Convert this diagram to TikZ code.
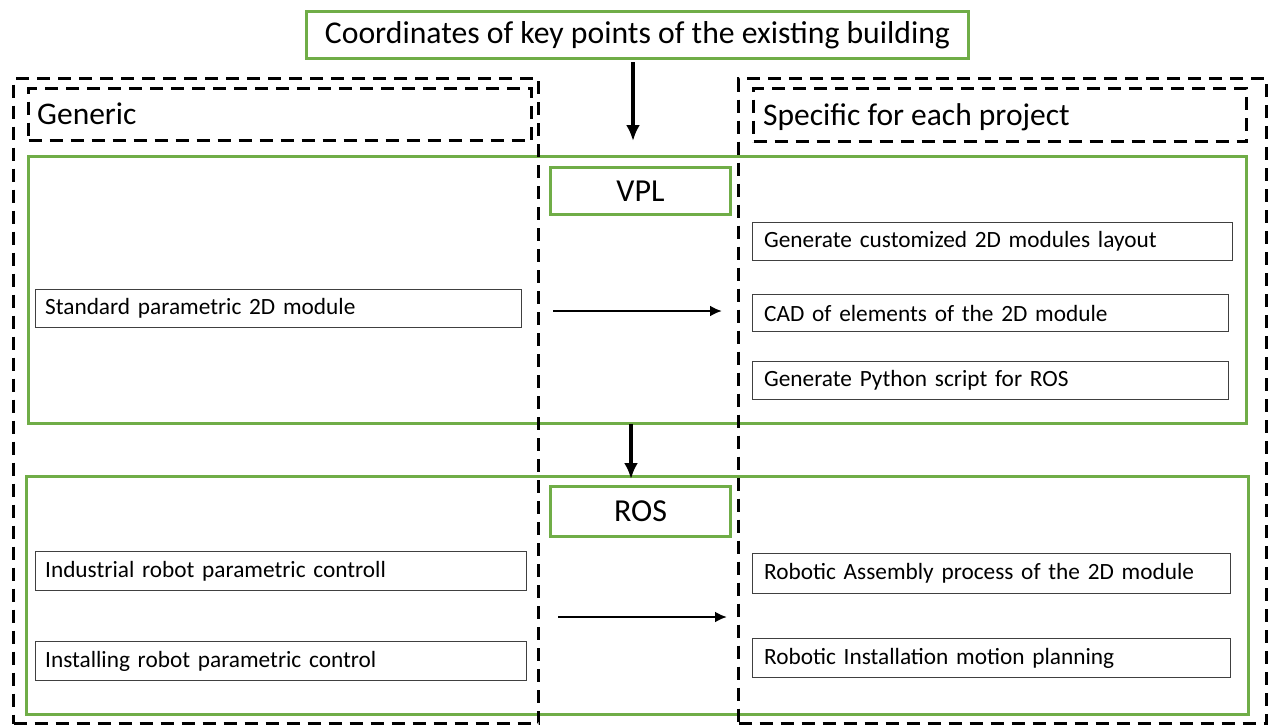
\documentclass[tikz,border=0pt]{standalone}
\usepackage{fontspec}
\setmainfont{Carlito}
\usetikzlibrary{arrows.meta}
\definecolor{ogreen}{HTML}{70AD47}
\definecolor{bordergray}{HTML}{404040}
\tikzset{
  x=1pt,y=-1pt,
  greenbox/.style={draw=ogreen,line width=3pt,fill=none},
  dashbox/.style={draw=black,line width=3pt,dash pattern=on 13pt off 8pt},
  sbox/.style={draw=bordergray,line width=1.3pt,rectangle,anchor=north west,inner sep=0pt,align=left,font=\fontsize{23.3}{26}\selectfont},
  titlebox/.style={draw=ogreen,line width=3pt,rectangle,anchor=north west,inner sep=0pt,align=center,font=\fontsize{32}{36}\selectfont},
  lbl/.style={anchor=west,inner sep=0pt,font=\fontsize{31.5}{36}\selectfont},
  harrow/.style={-{Latex[length=12pt,width=11pt]},line width=2.5pt},
  varrow/.style={-{Latex[length=16pt,width=14pt]},line width=4pt},
}
\newcommand{\lpad}[1]{\hspace*{7pt}\raisebox{-2pt}{#1}}
\newcommand{\rpad}[1]{\hspace*{9pt}\raisebox{-2pt}{#1}}
\begin{document}
\begin{tikzpicture}
\useasboundingbox (0,0) rectangle (1270,726);
% green big panels
\node[greenbox,rectangle,anchor=north west,minimum width=1218pt,minimum height=267pt,inner sep=0pt] (vplpanel) at (27,155) {};
\node[greenbox,rectangle,anchor=north west,minimum width=1222pt,minimum height=238pt,inner sep=0pt] (rospanel) at (25,475) {};
% dashed columns
\node[dashbox,rectangle,anchor=north west,minimum width=525pt,minimum height=645pt,inner sep=0pt] (genericcol) at (12,77) {};
\node[dashbox,rectangle,anchor=north west,minimum width=528pt,minimum height=645pt,inner sep=0pt] (specificcol) at (737,77) {};
\node[dashbox,rectangle,anchor=north west,minimum width=503pt,minimum height=52pt,inner sep=0pt] (generichdr) at (27,87) {};
\node[dashbox,rectangle,anchor=north west,minimum width=493pt,minimum height=53pt,inner sep=0pt] (specifichdr) at (752,87) {};
\node[lbl] (generictxt) at (37,114) {Generic};
\node[lbl] (specifictxt) at (763,117) {Specific for each project};
% top box
\node[titlebox,minimum width=662pt,minimum height=47pt,font=\fontsize{31.7}{36}\selectfont] (top) at (305,10) {Coordinates of key points of the existing building};
% VPL / ROS boxes
\node[titlebox,minimum width=180pt,minimum height=47pt] (vpl) at (549,166) {VPL};
\node[titlebox,minimum width=180pt,minimum height=50pt] (ros) at (549,485) {ROS};
% small boxes
\node[sbox,minimum width=486pt,minimum height=38pt,text width=481pt] (std) at (35,289) {\lpad{Standard parametric 2D module}};
\node[sbox,minimum width=480pt,minimum height=38pt,text width=475pt] (gen) at (752,222) {\rpad{Generate customized 2D modules layout}};
\node[sbox,minimum width=476pt,minimum height=37pt,text width=471pt] (cad) at (752,294) {\rpad{CAD of elements of the 2D module}};
\node[sbox,minimum width=476pt,minimum height=38pt,text width=471pt] (py) at (752,361) {\rpad{Generate Python script for ROS}};
\node[sbox,minimum width=491pt,minimum height=39pt,text width=486pt] (ind) at (35,551) {\lpad{Industrial robot parametric controll}};
\node[sbox,minimum width=491pt,minimum height=39pt,text width=486pt] (inst) at (35,641) {\lpad{Installing robot parametric control}};
\node[sbox,minimum width=478pt,minimum height=40pt,text width=473pt] (asm) at (752,553) {\rpad{Robotic Assembly process of the 2D module}};
\node[sbox,minimum width=478pt,minimum height=39pt,text width=473pt] (mot) at (752,638) {\rpad{Robotic Installation motion planning}};
% arrows
\coordinate (a1s) at (633,62);
\coordinate (a1e) at (633,141);
\draw[varrow] (a1s) -- (a1e);
\coordinate (a2s) at (631,424);
\coordinate (a2e) at (631,479);
\draw[varrow] (a2s) -- (a2e);
\coordinate (h1s) at (553,311);
\coordinate (h1e) at (722,311);
\draw[harrow] (h1s) -- (h1e);
\coordinate (h2s) at (558,617);
\coordinate (h2e) at (727,617);
\draw[harrow] (h2s) -- (h2e);
\end{tikzpicture}
\end{document}
